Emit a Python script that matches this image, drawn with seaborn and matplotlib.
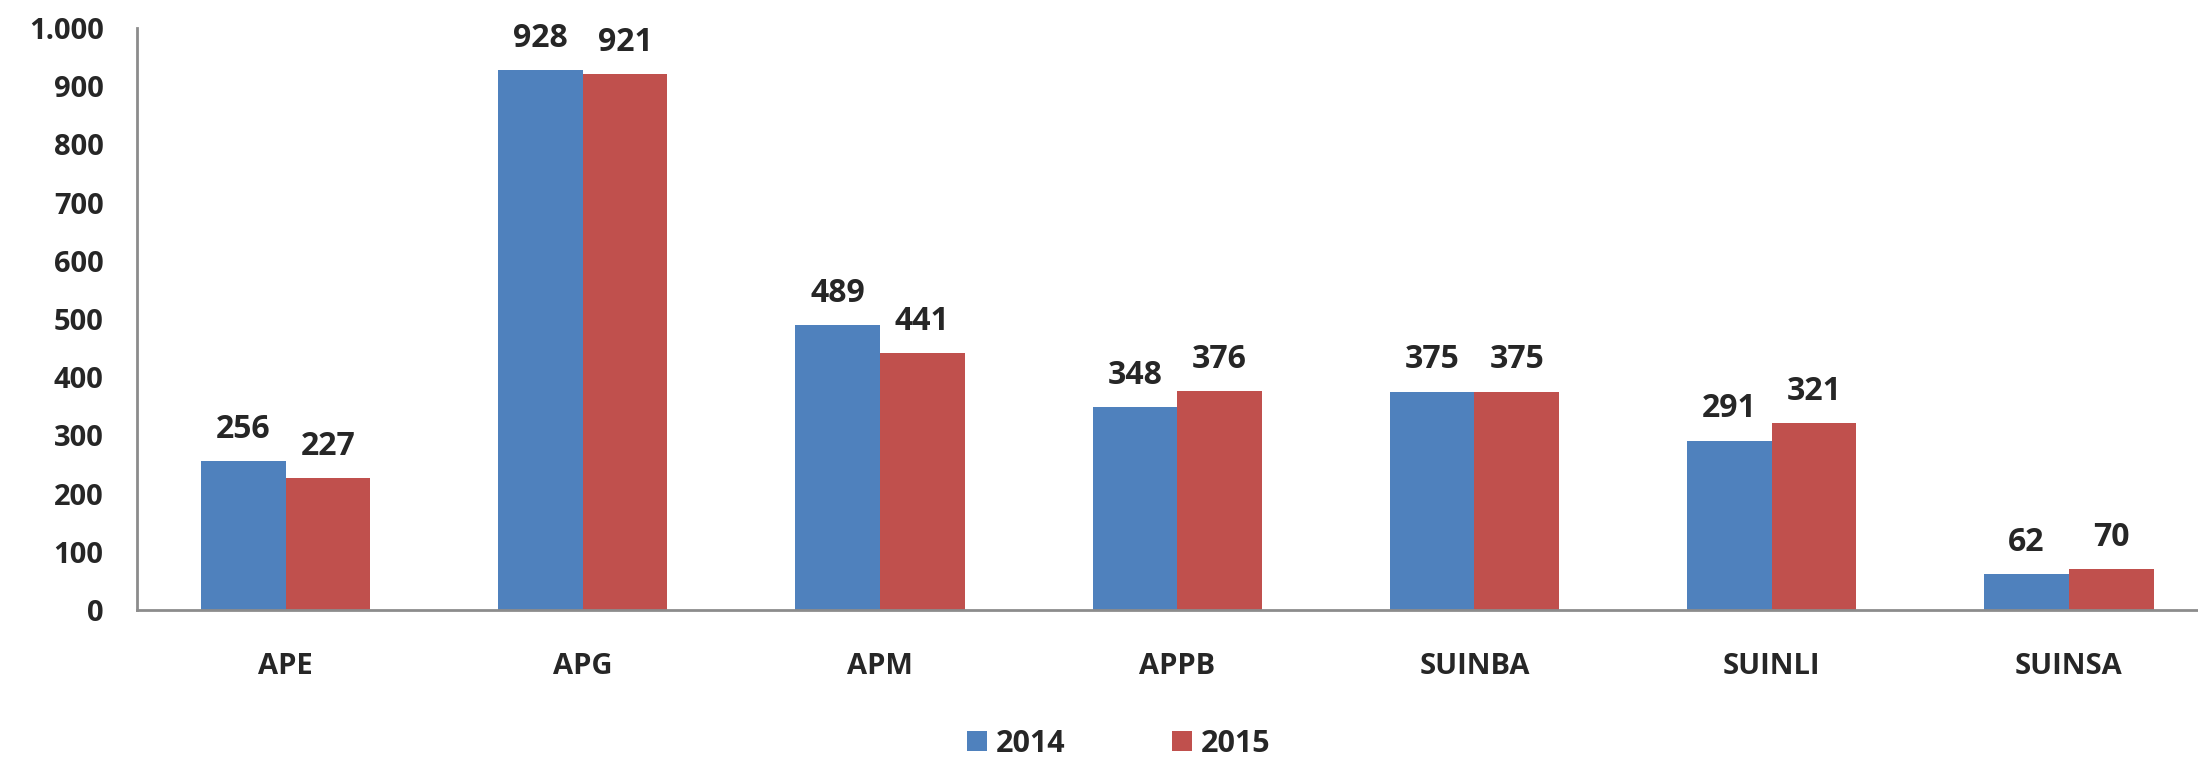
import pandas as pd
import seaborn as sns
import matplotlib
matplotlib.use('Agg')
import matplotlib.pyplot as plt

# values
categories = ['APE', 'APG', 'APM', 'APPB', 'SUINBA', 'SUINLI', 'SUINSA']
values_2014 = [256, 928, 489, 348, 375, 291, 62]
values_2015 = [227, 921, 441, 376, 375, 321, 70]
years = ['2014', '2015']
y_ticks = [0, 100, 200, 300, 400, 500, 600, 700, 800, 900, 1000]
y_tick_labels = ['0', '100', '200', '300', '400', '500', '600', '700', '800', '900', '1.000']

df = pd.DataFrame({
    'cat': categories * 2,
    'value': values_2014 + values_2015,
    'year': [years[0]] * len(categories) + [years[1]] * len(categories),
})

sns.set_style('white')
plt.rcParams['font.family'] = ['Open Sans', 'DejaVu Sans']

fig = plt.figure(figsize=(21.98, 7.63), dpi=100)
ax = fig.add_axes([0.0623, 0.2005, 0.9466, 0.7628])

sns.barplot(data=df, x='cat', y='value', hue='year', ax=ax,
            palette=['#4F81BD', '#C0504D'], saturation=1, width=0.57,
            edgecolor='none', linewidth=0)

# data labels
for cont in ax.containers:
    ax.bar_label(cont, labels=[f'{int(v)}' for v in cont.datavalues],
                 padding=11, fontsize=23, fontweight='bold')

ax.set_ylim(0, 1000)
ax.set_xlim(-0.5, 6.5)
ax.set_yticks(y_ticks)
ax.set_yticklabels(y_tick_labels, fontsize=21, fontweight='bold')
ax.tick_params(axis='y', length=0, pad=24)
ax.tick_params(axis='x', length=0, pad=30, labelsize=21)
for lbl in ax.get_xticklabels():
    lbl.set_fontweight('bold')
ax.set_xlabel('')
ax.set_ylabel('')

for side in ['top', 'right']:
    ax.spines[side].set_visible(False)
for side in ['left', 'bottom']:
    ax.spines[side].set_color('#8c8c8c')
    ax.spines[side].set_linewidth(2)

handles, labels = ax.get_legend_handles_labels()
ax.legend(handles, labels, loc='center', bbox_to_anchor=(0.509, 0.025), ncol=2,
          bbox_transform=fig.transFigure, frameon=False,
          prop={'size': 22, 'weight': 'bold'},
          handlelength=0.65, handleheight=0.65, handletextpad=0.3,
          columnspacing=3.5, borderpad=0)

fig.savefig('out.png', dpi=100)
